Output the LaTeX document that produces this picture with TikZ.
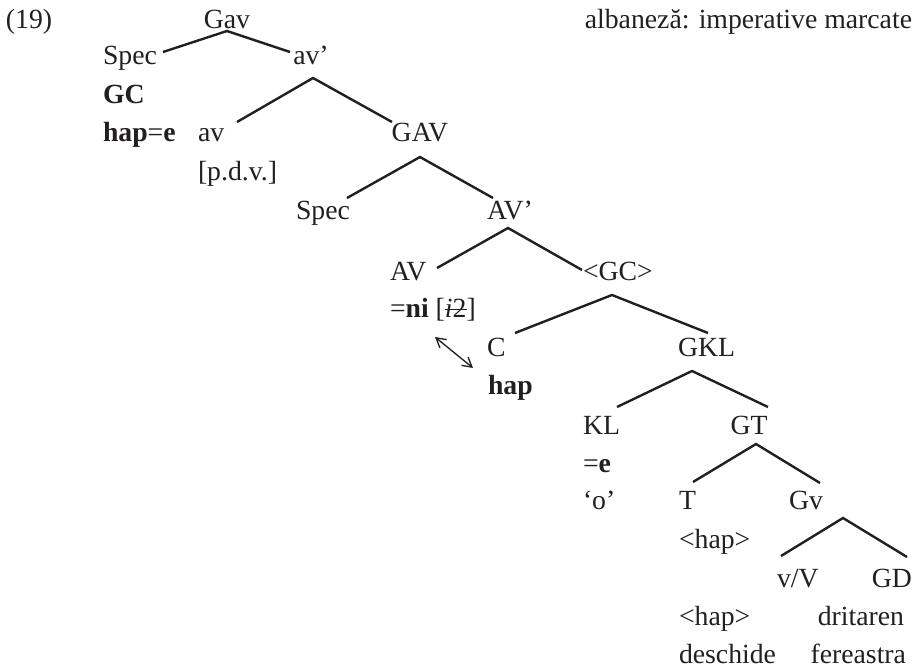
\documentclass[tikz,border=0pt]{standalone}
\usepackage{fontspec}
\setmainfont{Liberation Serif}
\usetikzlibrary{arrows.meta}
\definecolor{ink}{RGB}{35,31,32}
\newcommand\strikeword[1]{\setbox0\hbox{#1}\rlap{\rule[0.28em]{\wd0}{0.055em}}\box0}
\begin{document}
\begin{tikzpicture}[x=0.75pt,y=-0.75pt,
  every node/.style={inner sep=0pt, outer sep=0pt, text=ink,
    font=\fontsize{20.8pt}{24pt}\selectfont},
  lw/.style={anchor=base west},
  lc/.style={anchor=base},
  le/.style={anchor=base east},
  branch/.style={line width=1.8pt, draw=ink},
  link/.style={line width=1pt, draw=ink, {Straight Barb[length=7pt,width=8pt]}-{Straight Barb[length=7pt,width=8pt]}}]
\useasboundingbox (0,0) rectangle (918,670);

% row 0
\node[lw] (num) at (6,29) {(19)};
\node[lc] (Gav) at (227,29) {Gav};
\node[le] (title) at (912,29) {albaneză: imperative marcate};
% left part
\node[lw] (SpecA) at (103,65) {Spec};
\node[lc] (avp) at (311,65) {av’};
\node[lw] (GC) at (103,104) {\textbf{GC}};
\node[lw] (hape) at (103,142) {\textbf{hap}=\textbf{e}};
\node[lw] (av) at (198,142) {av};
\node[lc] (GAV) at (420,142) {GAV};
\node[lw] (pdv) at (198,181) {[p.d.v.]};
\node[lw] (SpecB) at (296,220) {Spec};
\node[lc] (AVp) at (510,220) {AV’};
\node[lw] (AV) at (390,281) {AV};
\node[lw] (GCc) at (583,281) {<GC>};
\node[lw] (ni) at (390,318) {=\textbf{ni} [\strikeword{\textit{i}2}]};
\node[lw] (C) at (487,357) {C};
\node[lw] (GKL) at (678,357) {GKL};
\node[lw] (hapC) at (488,394) {\textbf{hap}};
\node[lw] (KL) at (583,434) {KL};
\node[lc] (GT) at (749,434) {GT};
\node[lw] (eKL) at (583,472) {=\textbf{e}};
\node[lw] (o) at (583,509) {‘o’};
\node[lw] (T) at (679,509) {T};
\node[lc] (Gv) at (806,509) {Gv};
\node[lw] (hapT) at (679,548) {<hap>};
\node[lw] (vV) at (777,587) {v/V};
\node[le] (GD) at (912,587) {GD};
\node[lw] (hapV) at (679,625) {<hap>};
\node[le] (dritaren) at (904,625) {dritaren};
\node[lw] (deschide) at (679,663) {deschide};
\node[le] (fereastra) at (906,663) {fereastra};

% branch points
\coordinate (Gav-apex) at (227,31);
\coordinate (SpecA-end) at (163,52);
\coordinate (avp-end) at (290,52);
\coordinate (avp-apex) at (313,78);
\coordinate (av-end) at (237,122);
\coordinate (GAV-end) at (392,122);
\coordinate (GAV-apex) at (420,157);
\coordinate (SpecB-end) at (347,198);
\coordinate (AVp-end) at (493,198);
\coordinate (AVp-apex) at (508,228);
\coordinate (AV-end) at (437,268);
\coordinate (GCc-end) at (582,270);
\coordinate (GCc-apex) at (612,295);
\coordinate (C-end) at (515,333);
\coordinate (GKL-end) at (708,333);
\coordinate (GKL-apex) at (692,371);
\coordinate (KL-end) at (617,407);
\coordinate (GT-end) at (768,407);
\coordinate (GT-apex) at (756,444);
\coordinate (T-end) at (693,482);
\coordinate (Gv-end) at (820,483);
\coordinate (Gv-apex) at (843,518);
\coordinate (vV-end) at (781,556);
\coordinate (GD-end) at (907,557);
\coordinate (arr-a) at (435,337);
\coordinate (arr-b) at (473,368);

\draw[branch] (SpecA-end) -- (Gav-apex) -- (avp-end);
\draw[branch] (av-end) -- (avp-apex) -- (GAV-end);
\draw[branch] (SpecB-end) -- (GAV-apex) -- (AVp-end);
\draw[branch] (AV-end) -- (AVp-apex) -- (GCc-end);
\draw[branch] (C-end) -- (GCc-apex) -- (GKL-end);
\draw[branch] (KL-end) -- (GKL-apex) -- (GT-end);
\draw[branch] (T-end) -- (GT-apex) -- (Gv-end);
\draw[branch] (vV-end) -- (Gv-apex) -- (GD-end);
\draw[link] (arr-a) -- (arr-b);
\end{tikzpicture}
\end{document}
